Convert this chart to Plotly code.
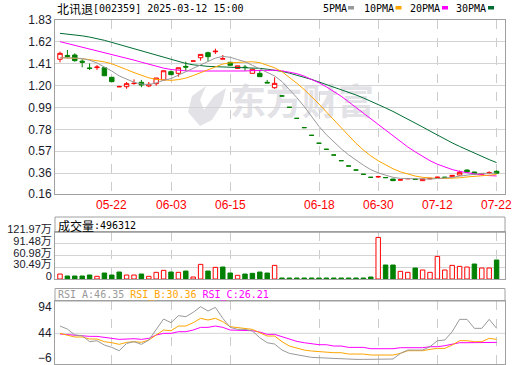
import plotly.graph_objects as go
import pandas as pd

# ---------------- data ----------------
x_idx = list(range(60))
tick_idx = [7, 15, 23, 35, 43, 51, 59]
tick_labels = ["05-22", "06-03", "06-15", "06-18", "06-30", "07-12", "07-22"]

opens = [1.453, 1.49, 1.494, 1.435, 1.37, 1.373, 1.372, 1.28, 1.19, 1.19,
         1.22, 1.232, 1.197, 1.219, 1.255, 1.334, 1.318, 1.385, 1.436, 1.468,
         1.516, 1.525, 1.455, 1.424, 1.365, 1.378, 1.318, 1.318, 1.232, 1.18,
         1.101, 0.992, 0.886, 0.797, 0.723, 0.647, 0.589, 0.534, 0.48, 0.429,
         0.39, 0.349, 0.32, 0.324, 0.318, 0.304, 0.294, 0.306, 0.303, 0.288,
         0.305, 0.318, 0.32, 0.326, 0.342, 0.39, 0.371, 0.35, 0.363, 0.378]
highs = [1.526, 1.542, 1.51, 1.453, 1.414, 1.398, 1.372, 1.28, 1.20, 1.235,
         1.26, 1.255, 1.235, 1.273, 1.343, 1.345, 1.372, 1.43, 1.436, 1.5,
         1.526, 1.555, 1.494, 1.424, 1.391, 1.398, 1.357, 1.35, 1.255, 1.28,
         1.101, 0.992, 0.886, 0.797, 0.723, 0.647, 0.589, 0.534, 0.48, 0.429,
         0.39, 0.349, 0.32, 0.335, 0.32, 0.304, 0.297, 0.309, 0.305, 0.305,
         0.312, 0.326, 0.322, 0.34, 0.384, 0.395, 0.373, 0.36, 0.378, 0.385]
lows = [1.424, 1.462, 1.43, 1.376, 1.35, 1.35, 1.295, 1.238, 1.19, 1.17,
        1.209, 1.185, 1.185, 1.2, 1.255, 1.305, 1.286, 1.343, 1.436, 1.44,
        1.436, 1.504, 1.455, 1.395, 1.36, 1.343, 1.318, 1.286, 1.226, 1.17,
        1.101, 0.992, 0.886, 0.797, 0.723, 0.647, 0.589, 0.534, 0.48, 0.429,
        0.39, 0.349, 0.32, 0.315, 0.315, 0.288, 0.292, 0.305, 0.298, 0.287,
        0.303, 0.312, 0.318, 0.325, 0.338, 0.365, 0.35, 0.348, 0.352, 0.355]
closes = [1.51, 1.48, 1.44, 1.425, 1.365, 1.378, 1.295, 1.238, 1.19, 1.219,
          1.222, 1.206, 1.213, 1.273, 1.343, 1.305, 1.372, 1.378, 1.436, 1.5,
          1.478, 1.53, 1.458, 1.395, 1.39, 1.374, 1.357, 1.286, 1.226, 1.222,
          1.101, 0.992, 0.886, 0.797, 0.723, 0.647, 0.589, 0.534, 0.48, 0.429,
          0.39, 0.349, 0.32, 0.327, 0.317, 0.288, 0.296, 0.308, 0.300, 0.304,
          0.31, 0.321, 0.32, 0.339, 0.368, 0.371, 0.352, 0.357, 0.366, 0.36]
candle_red = [1, 0, 0, 0, 0, 1, 0, 0, 1, 1, 1, 0, 1, 1, 1, 0, 1, 0, 1, 1,
              0, 1, 1, 0, 1, 0, 1, 0, 0, 1, 0, 0, 0, 0, 0, 0, 0, 0, 0, 0,
              0, 0, 0, 1, 0, 0, 1, 1, 0, 1, 1, 1, 0, 1, 1, 0, 0, 1, 1, 0]

# moving-average values before a full window is available
ma5_head = [1.468, 1.468, 1.465, 1.46]
ma10_head = [1.47, 1.468, 1.464, 1.458, 1.45, 1.44, 1.428, 1.41, 1.385]
ma20_head = [1.622, 1.605, 1.588, 1.571, 1.554, 1.537, 1.52, 1.502, 1.484, 1.465,
             1.445, 1.425, 1.405, 1.385, 1.368, 1.355, 1.347, 1.342, 1.34]
ma30_head = [1.702, 1.695, 1.687, 1.678, 1.666, 1.652, 1.635, 1.615, 1.595, 1.575,
             1.555, 1.535, 1.515, 1.495, 1.472, 1.45, 1.43, 1.413, 1.4, 1.39,
             1.385, 1.382, 1.38, 1.379, 1.378, 1.376, 1.372, 1.366, 1.358]

# volume in 万 shares
volumes = [13.0, 7.8, 7.8, 7.8, 10.4, 7.0, 15.6, 10.4, 18.2, 10.4,
           10.4, 13.0, 7.0, 17.4, 22.6, 18.2, 17.4, 20.8, 5.2, 38.2,
           20.8, 30.4, 31.3, 15.6, 9.6, 13.0, 14.8, 18.2, 15.6, 35.6,
           2.6, 2.6, 2.6, 2.6, 2.6, 2.6, 2.6, 2.6, 2.6, 2.6,
           2.6, 2.6, 5.2, 108.6, 36.5, 36.5, 20.0, 17.4, 28.7, 23.5,
           17.4, 59.0, 23.5, 35.6, 33.0, 31.3, 39.1, 28.7, 28.7, 49.63]
vol_red = [1, 0, 0, 0, 0, 1, 0, 0, 0, 1, 1, 0, 1, 1, 1, 0, 1, 0, 1, 1,
           0, 1, 0, 0, 1, 0, 0, 0, 0, 1, 0, 0, 0, 0, 0, 0, 0, 0, 0, 0,
           0, 0, 0, 1, 0, 0, 1, 1, 0, 1, 1, 1, 1, 1, 1, 1, 0, 1, 1, 0]
vol_ticks = [0, 30.49, 60.98, 91.48, 121.97]
vol_tick_labels = ["0", "30.49万", "60.98万", "91.48万", "121.97万"]

rsi_a = [58.2, 52.3, 40.7, 39.4, 27.7, 29.6, 21.2, 16.6, 10.1, 24.4,
         27.7, 22.5, 30.9, 51.7, 71.9, 64.7, 78.4, 76.4, 84.9, 95.9,
         87.4, 94.6, 73.2, 55.6, 51.7, 51.7, 48.5, 35.4, 25.7, 23.1,
         11.4, 4.9, 1.7, -0.3, -2.9, -3.6, -4.9, -5.5, -6.1, -6.1,
         -6.8, -6.8, -6.8, -6.1, -6.1, -6.1, 4.9, 11.4, 11.4, 11.4,
         17.9, 29.6, 30.9, 47.2, 71.2, 71.2, 53.7, 53.7, 71.2, 53.7]
rsi_b = [43.9, 40.7, 36.8, 36.8, 32.9, 32.9, 27.7, 25.7, 22.5, 26.4,
         27.7, 26.4, 30.9, 40.7, 50.4, 49.1, 58.2, 58.2, 64.7, 73.2,
         69.9, 73.2, 66.7, 56.9, 55.6, 54.3, 51.7, 45.2, 38.7, 38.7,
         27.7, 19.2, 14.6, 11.4, 9.5, 8.2, 8.2, 6.2, 6.2, 3.6,
         3.6, 3.6, 1.7, 1.7, 1.7, 1.7, 4.9, 10.1, 10.1, 10.1,
         12.7, 14.6, 14.6, 21.2, 29.6, 29.6, 27.7, 27.7, 34.2, 32.2]
rsi_c = [42.6, 41.3, 40.0, 40.0, 38.05, 38.05, 35.45, 34.15, 32.2, 33.5,
         33.5, 32.2, 34.15, 40.65, 43.9, 43.9, 47.15, 47.15, 50.4, 55.6,
         55.6, 58.2, 55.6, 50.4, 50.4, 50.4, 49.1, 46.5, 42.0, 42.0,
         37.4, 32.2, 28.3, 25.7, 23.1, 21.8, 21.8, 19.2, 19.2, 16.6,
         16.6, 16.6, 14.0, 14.0, 14.0, 14.0, 15.95, 15.95, 15.95, 15.95,
         17.9, 17.9, 19.85, 22.45, 25.7, 25.7, 25.7, 25.7, 25.7, 26.35]
rsi_ticks = [94, 44, -6]

price_ticks = [1.83, 1.62, 1.41, 1.20, 0.99, 0.78, 0.57, 0.36, 0.16]
price_tick_labels = ["1.83", "1.62", "1.41", "1.20", "0.99", "0.78", "0.57", "0.36", "0.16"]

# ---------------- derived ----------------
def rolling_ma(n, head):
    s = pd.Series(closes, dtype=float).rolling(n).mean()
    s.iloc[:len(head)] = head
    return s.tolist()

ma5 = rolling_ma(5, ma5_head)
ma10 = rolling_ma(10, ma10_head)
ma20 = rolling_ma(20, ma20_head)
ma30 = rolling_ma(30, ma30_head)

RED = "#ff0000"
GREEN = "#008000"
C5, C10, C20, C30 = "#999999", "#ffa500", "#ff00ff", "#006e33"

W, H = 520, 365
L, R = 55, 505


def X(px):
    return (px - L) / (R - L)


def Y(py):
    return 1 - py / H


fig = go.Figure()

# MA lines
for vals, col in [(ma30, C30), (ma20, C20), (ma10, C10), (ma5, C5)]:
    fig.add_trace(go.Scatter(x=x_idx, y=vals, mode="lines", line=dict(color=col, width=1),
                             hoverinfo="skip", xaxis="x", yaxis="y"))


def sel(arr, flag):
    return [v if f == flag else None for v, f in zip(arr, candle_red)]


for flag, col, fill in [(1, RED, "#ffffff"), (0, GREEN, GREEN)]:
    fig.add_trace(go.Candlestick(
        x=x_idx, open=sel(opens, flag), high=sel(highs, flag), low=sel(lows, flag),
        close=sel(closes, flag),
        increasing=dict(line=dict(color=col, width=1), fillcolor=fill),
        decreasing=dict(line=dict(color=col, width=1), fillcolor=fill),
        whiskerwidth=0, xaxis="x", yaxis="y", hoverinfo="skip"))

# volume
fig.add_trace(go.Bar(
    x=x_idx, y=volumes, width=0.6,
    marker=dict(color=["#ffffff" if r else GREEN for r in vol_red],
                line=dict(color=[RED if r else GREEN for r in vol_red], width=1)),
    xaxis="x2", yaxis="y2", hoverinfo="skip"))

# RSI
for vals, col in [(rsi_c, C20), (rsi_b, C10), (rsi_a, C5)]:
    fig.add_trace(go.Scatter(x=x_idx, y=vals, mode="lines", line=dict(color=col, width=1),
                             xaxis="x3", yaxis="y3", hoverinfo="skip"))

frame = "#a0a0a0"
grid = "#d4d4d4"
axfont = dict(family="Liberation Sans, Noto Sans CJK SC", size=12, color="#1a1a2a")

xcommon = dict(range=[-0.676, 60.135], tickvals=tick_idx, ticktext=tick_labels,
               showgrid=True, gridcolor="#cccccc", griddash="dash", gridwidth=1,
               showline=True, linecolor=frame, linewidth=1, mirror=True,
               zeroline=False, ticks="", fixedrange=True, automargin=False,
               showticklabels=False)
ycommon = dict(showline=True, linecolor=frame, mirror=True, zeroline=False, ticks="",
               tickfont=axfont, fixedrange=True, automargin=False, ticklabeloverflow="allow")

fig.update_layout(
    width=W, height=H,
    margin=dict(l=L, r=W - R, t=0, b=0),
    paper_bgcolor="white", plot_bgcolor="white",
    showlegend=False,
    boxgap=0.4, boxgroupgap=0,
    xaxis=dict(**xcommon, domain=[0, 1], anchor="y", rangeslider=dict(visible=False)),
    xaxis2=dict(**xcommon, domain=[0, 1], anchor="y2", matches="x"),
    xaxis3=dict(**xcommon, domain=[0, 1], anchor="y3", matches="x"),
    yaxis=dict(**ycommon, domain=[Y(194), Y(20)], range=[0.16, 1.83], tickvals=price_ticks,
               ticktext=price_tick_labels, showgrid=True, gridcolor=grid),
    yaxis2=dict(**{**ycommon, "tickfont": dict(axfont, size=11)},
                domain=[Y(279), Y(232.3)], range=[0, 121.97], tickvals=vol_ticks,
                ticktext=vol_tick_labels, showgrid=True, gridcolor=grid, ticklabelshift=-3),
    yaxis3=dict(**ycommon, domain=[Y(364), Y(301)], range=[-15.8, 107], tickvals=rsi_ticks,
                showgrid=False, ticklabelshift=-1),
)

shapes = []
# RSI mid grid line
shapes.append(dict(type="line", xref="paper", x0=0, x1=1, yref="y3", y0=44, y1=44,
                   line=dict(color=grid, width=1), layer="below"))
# panel header boxes
for top, bot in [(217, 232.3), (288.5, 301)]:
    shapes.append(dict(type="rect", xref="paper", yref="paper", x0=0, x1=1,
                       y0=Y(bot), y1=Y(top), line=dict(color=frame, width=1)))
# legend swatches
for x0, col in [(348, C5), (395.5, C10), (442, C20), (488, C30)]:
    shapes.append(dict(type="rect", xref="paper", yref="paper", x0=X(x0), x1=X(x0 + 6),
                       y0=Y(9.5), y1=Y(6), line=dict(width=0), fillcolor=col))
# watermark
shapes.append(dict(type="rect", xref="paper", yref="paper", x0=X(226), x1=X(378),
                   y0=Y(126), y1=Y(84), line=dict(width=0), fillcolor="rgba(0,0,0,0)",
                   layer="below",
                   label=dict(text="<b>东方财富</b>", font=dict(family="Noto Sans CJK SC", size=36,
                                                            color="#e2e2e7"),
                              textposition="middle center")))
logo_pts = [(200, 126), (188, 112), (192, 96), (206, 86), (200, 100), (204, 110),
            (214, 96), (226, 88), (222, 104), (212, 120)]
path = "M " + " L ".join(f"{X(a):.4f},{Y(b):.4f}" for a, b in logo_pts) + " Z"
shapes.append(dict(type="path", xref="paper", yref="paper", path=path,
                   fillcolor="#e2e2e7", line=dict(width=0), layer="below"))
fig.update_layout(shapes=shapes)

mono = "DejaVu Sans Mono"
cjk = "Noto Sans CJK SC"
ann = []


def txt(px, py, s, fam, size, col="#000000"):
    ann.append(dict(xref="paper", yref="paper", x=X(px), y=Y(py), text=s, showarrow=False,
                    xanchor="left", yanchor="middle", font=dict(family=fam, size=size, color=col)))


txt(55, 8, "北讯退", cjk, 12)
txt(91, 8, "[002359] 2025-03-12 15:00", mono, 10)
for px, s in [(321, "5PMA"), (362, "10PMA"), (408, "20PMA"), (454, "30PMA")]:
    txt(px, 8, s, mono, 10)
txt(56, 225, "成交量", cjk, 12)
txt(92, 225, ":496312", mono, 10)
txt(56, 295, f'<span style="color:{C5}">RSI_A:46.35</span> <span style="color:{C10}">RSI_B:30.36</span> '
             f'<span style="color:{C20}">RSI_C:26.21</span>', mono, 10)

# date labels under the price panel
for i, lab in zip(tick_idx, tick_labels):
    ann.append(dict(xref="x", yref="paper", x=i, y=Y(204.5), text=lab, showarrow=False,
                    xanchor="center", yanchor="middle",
                    font=dict(family="Liberation Sans", size=12, color=RED)))
fig.update_layout(annotations=ann)

fig.write_html("out.html", config={"displayModeBar": False},
               post_script="document.body.style.margin='0';document.body.style.overflow='hidden';")
